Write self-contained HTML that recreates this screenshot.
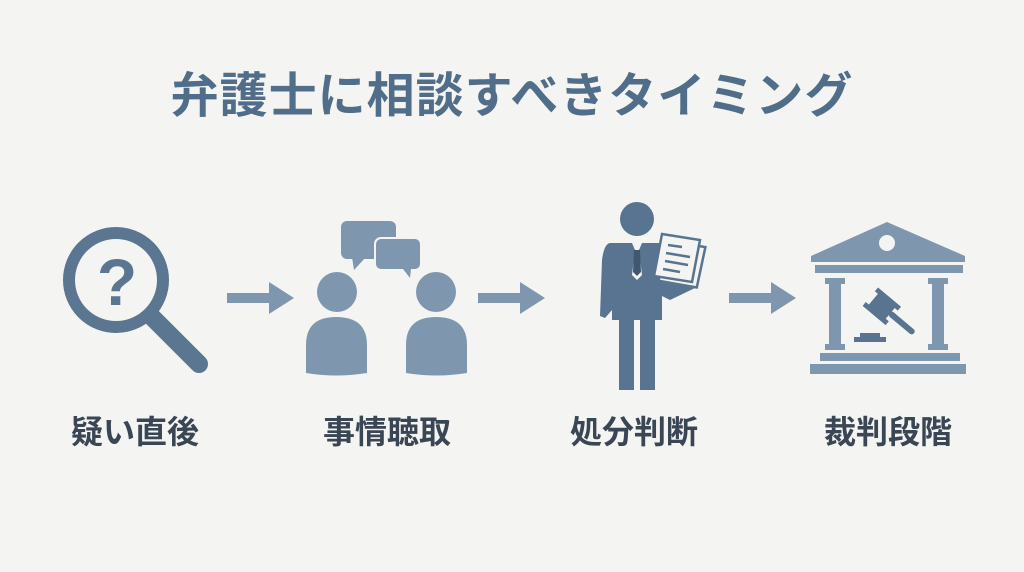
<!DOCTYPE html>
<html><head><meta charset="utf-8"><style>
html,body{margin:0;padding:0;background:#f4f4f3;}
svg{display:block;}
text{font-family:"Liberation Sans","Noto Sans CJK JP",sans-serif;font-weight:bold;}
</style></head><body>
<svg width="1024" height="572" viewBox="0 0 1024 572" xmlns="http://www.w3.org/2000/svg">
<rect width="1024" height="572" fill="#f4f4f3"/>
<text x="512" y="112" font-size="48" fill="#506d89" text-anchor="middle" letter-spacing="1">弁護士に相談すべきタイミング</text>

<!-- magnifier -->
<g fill="none" stroke="#5a7690">
<circle cx="116" cy="280" r="47" stroke-width="12"/>
<line x1="152" y1="317" x2="199" y2="364" stroke-width="18" stroke-linecap="round"/>
</g>
<text x="117" y="305" font-size="66" fill="#5a7690" text-anchor="middle">?</text>

<!-- arrows -->
<g fill="#7f97ae">
<path d="M227,293 H269 V282 L294,298 L269,314 V303 H227 Z"/>
<path d="M478,293 H520 V282 L545,298 L520,314 V303 H478 Z"/>
<path d="M729,293 H771 V282 L796,298 L771,314 V303 H729 Z"/>
</g>

<!-- people talking -->
<g fill="#7f97ae">
<circle cx="337" cy="292" r="20"/>
<path d="M306,373 V345 Q306,317 336,317 Q367,317 367,345 V373 Q336,378 306,373 Z"/>
<circle cx="436" cy="292" r="20"/>
<path d="M406,373 V345 Q406,317 436,317 Q467,317 467,345 V373 Q436,378 406,373 Z"/>
<rect x="341" y="221" width="55" height="38" rx="6"/>
<path d="M352,257 L354,270 L366,257 Z"/>
<rect x="375" y="238" width="46" height="32" rx="6" stroke="#f4f4f3" stroke-width="2"/>
<path d="M403,269 L410,278 L411,269 Z"/>
</g>

<!-- lawyer -->
<g fill="#587490">
<circle cx="637" cy="219" r="17"/>
<path d="M610,243 L663,243 L668,290 L662,296 L662,320 L655,320 L655,390 L640,390 L640,320 L634,320 L634,390 L619,390 L619,320 L612,320 L612,310 L605,318 L600,316 L602,260 Q604,244 610,243 Z"/>
<path d="M660,270 L690,275 L695,288 L670,300 L660,295 Z"/>
</g>
<path d="M632,243 L642,243 L639,250 L642,275 L637,280 L632,275 L635,250 Z" fill="#f4f4f3"/>
<path d="M634,250 L640,250 L641,272 L637,276 L633,272 Z" fill="#3f5770"/>
<g stroke="#587490" stroke-width="2.5">
<path d="M668,240 L706,248 L696,288 L658,280 Z" fill="#f4f4f3" transform="rotate(-2 680 265)"/>
<path d="M662,234 L700,240 L692,282 L654,276 Z" fill="#f4f4f3"/>
<line x1="668" y1="245" x2="682" y2="247"/>
<line x1="666" y1="253" x2="690" y2="257"/>
<line x1="665" y1="261" x2="688" y2="265"/>
<line x1="663" y1="269" x2="680" y2="272"/>
</g>

<!-- courthouse -->
<g fill="#7f97ae">
<path d="M887,222 L965,256 V262 H811 V256 Z"/>
<rect x="815" y="265" width="148" height="8"/>
<rect x="825" y="278" width="20" height="6"/>
<rect x="829" y="284" width="12" height="60"/>
<rect x="825" y="344" width="20" height="6"/>
<rect x="928" y="278" width="20" height="6"/>
<rect x="932" y="284" width="12" height="60"/>
<rect x="928" y="344" width="20" height="6"/>
<rect x="820" y="353" width="140" height="8"/>
<rect x="810" y="364" width="156" height="10"/>
</g>
<circle cx="887" cy="243" r="8" fill="#f4f4f3"/>
<g fill="#587490">
<rect x="854" y="337" width="32" height="5"/>
<rect x="860" y="333" width="20" height="5"/>
<g transform="rotate(40 880 310)">
<rect x="868" y="298" width="22" height="16"/>
<rect x="864" y="294" width="30" height="5"/>
<rect x="864" y="313" width="30" height="5"/>
<rect x="889" y="303" width="32" height="6" rx="3"/>
</g>
</g>

<g font-size="32" fill="#3a4654" text-anchor="middle">
<text x="135" y="443">疑い直後</text>
<text x="387" y="443">事情聴取</text>
<text x="634" y="443">処分判断</text>
<text x="888" y="443">裁判段階</text>
</g>
</svg>
</body></html>
